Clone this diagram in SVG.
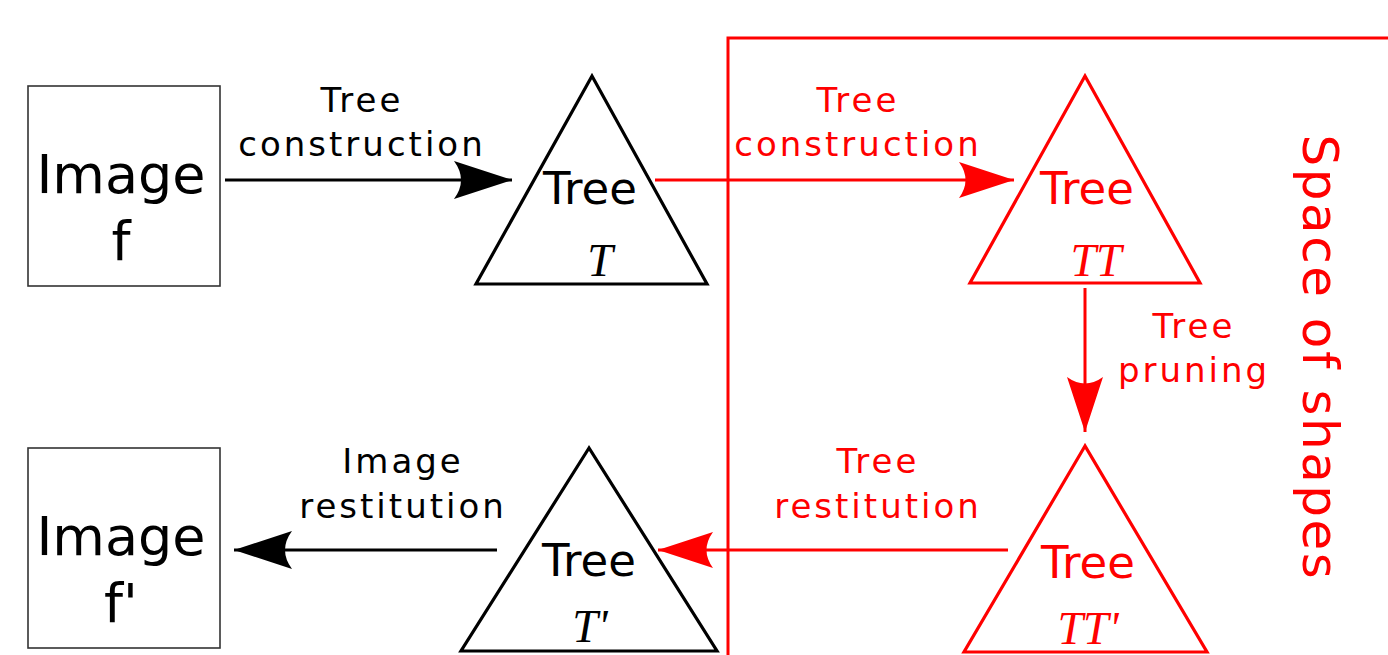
<svg xmlns="http://www.w3.org/2000/svg" width="1388" height="655" viewBox="0 0 1388 655">
<style>
.box{fill:#fff;stroke:#333;stroke-width:1.6}
.tri{fill:none;stroke:#000;stroke-width:3.2;stroke-linejoin:miter}
.tri.r{stroke:#f00}
.big{font-family:"DejaVu Sans",sans-serif;font-size:54px;text-anchor:middle;fill:#000}
.tt{font-family:"DejaVu Sans",sans-serif;font-size:45px;text-anchor:middle;fill:#000}
.sc{font-family:"Liberation Serif","DejaVu Serif",serif;font-style:italic;font-size:46px;text-anchor:middle;fill:#000}
.lbl{font-family:"DejaVu Sans",sans-serif;font-size:34px;letter-spacing:3px;text-anchor:middle;fill:#000}
.red{fill:#f00}
.ln{stroke:#000;stroke-width:3;fill:none}
.ln.r{stroke:#f00}
</style>
<defs>
<marker id="ab" markerUnits="userSpaceOnUse" orient="auto" refX="0" refY="0" markerWidth="80" markerHeight="60" viewBox="-60 -30 70 60" overflow="visible">
<path d="M0,0 L-58,-19 Q-44,0 -58,19 Z" fill="#000"/>
</marker>
<marker id="ar" markerUnits="userSpaceOnUse" orient="auto" refX="0" refY="0" markerWidth="80" markerHeight="60" viewBox="-60 -30 70 60" overflow="visible">
<path d="M0,0 L-55,-18 Q-42,0 -55,18 Z" fill="#f00"/>
</marker>
</defs>
<rect x="0" y="0" width="1388" height="655" fill="#fff"/>
<rect id="space" x="728" y="38" width="700" height="700" fill="none" stroke="#f00" stroke-width="3"/>
<text class="big red" transform="translate(1303,358) rotate(90)" style="font-size:50px;letter-spacing:2.5px">Space of shapes</text>
<g id="connectors">
<line class="ln" x1="225" y1="180" x2="512" y2="180" marker-end="url(#ab)"/>
<line class="ln r" x1="655" y1="180" x2="1014" y2="180" marker-end="url(#ar)"/>
<line class="ln r" x1="1085" y1="288" x2="1085" y2="432" marker-end="url(#ar)"/>
<line class="ln r" x1="1008" y1="550" x2="658" y2="550" marker-end="url(#ar)"/>
<line class="ln" x1="497" y1="550" x2="234" y2="550" marker-end="url(#ab)"/>
<text class="lbl" x="362" y="112">Tree</text>
<text class="lbl" x="362" y="156">construction</text>
<text class="lbl red" x="858" y="112">Tree</text>
<text class="lbl red" x="858" y="156">construction</text>
<text class="lbl red" x="1194" y="338">Tree</text>
<text class="lbl red" x="1194" y="382">pruning</text>
<text class="lbl red" x="878" y="473">Tree</text>
<text class="lbl red" x="878" y="518">restitution</text>
<text class="lbl" x="403" y="473">Image</text>
<text class="lbl" x="403" y="518">restitution</text>
</g>
<g id="image-f">
<rect class="box" x="28" y="86" width="192" height="200"/>
<text class="big" x="121" y="193">Image</text>
<text class="big" x="121" y="260">f</text>
</g>
<g id="image-fp">
<rect class="box" x="28" y="448" width="192" height="200"/>
<text class="big" x="121" y="555">Image</text>
<text class="big" x="121" y="622">f'</text>
</g>
<g id="tree-T">
<polygon class="tri" points="592,76 476,284 707,284"/>
<text class="tt" x="590" y="204">Tree</text>
<text class="sc" x="600" y="276">T</text>
</g>
<g id="tree-TT">
<polygon class="tri r" points="1085,76 970,283 1200,283"/>
<text class="tt red" x="1087" y="204">Tree</text>
<text class="sc red" x="1096" y="276">TT</text>
</g>
<g id="tree-Tp">
<polygon class="tri" points="589,448 461,651 717,651"/>
<text class="tt" x="589" y="576">Tree</text>
<text class="sc" x="590" y="642">T'</text>
</g>
<g id="tree-TTp">
<polygon class="tri r" points="1085,446 964,652 1207,652"/>
<text class="tt red" x="1088" y="578">Tree</text>
<text class="sc red" x="1088" y="644">TT'</text>
</g>
</svg>
